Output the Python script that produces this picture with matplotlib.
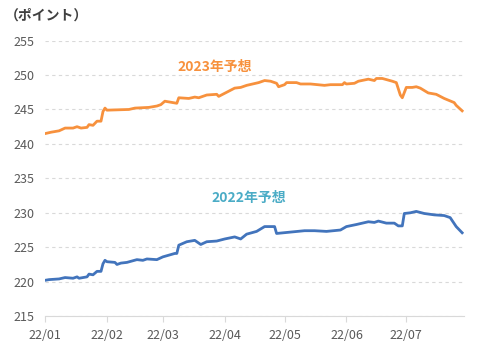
import pandas as pd
import matplotlib.pyplot as plt
import matplotlib.dates as mdates

plt.rcParams['font.family'] = ['Noto Sans CJK JP', 'DejaVu Sans']

# 2023年予想（オレンジ）
dates_2023 = ['01-01', '01-04', '01-08', '01-11', '01-15', '01-17', '01-19', '01-22',
              '01-23', '01-25', '01-27', '01-29', '01-30', '01-31', '02-01', '02-12',
              '02-15', '02-22', '02-26', '02-28', '03-02', '03-08', '03-09', '03-14',
              '03-17', '03-19', '03-23', '03-28', '03-29', '04-06', '04-09', '04-12',
              '04-18', '04-21', '04-24', '04-27', '04-28', '05-01', '05-02', '05-07',
              '05-09', '05-14', '05-21', '05-24', '05-30', '05-31', '06-01', '06-05',
              '06-07', '06-12', '06-15', '06-16', '06-19', '06-24', '06-26', '06-28',
              '06-29', '07-01', '07-04', '07-06', '07-08', '07-12', '07-16', '07-20',
              '07-25', '07-26', '07-29']
values_2023 = [241.5, 241.7, 241.9, 242.3, 242.3, 242.5, 242.3, 242.4,
               242.8, 242.7, 243.3, 243.3, 244.7, 245.2, 244.9, 245.0,
               245.2, 245.3, 245.5, 245.7, 246.2, 245.9, 246.7, 246.6,
               246.8, 246.7, 247.1, 247.2, 246.9, 248.1, 248.2, 248.5,
               248.9, 249.2, 249.1, 248.8, 248.3, 248.6, 248.9, 248.9,
               248.7, 248.7, 248.5, 248.6, 248.6, 248.9, 248.7, 248.8,
               249.1, 249.4, 249.2, 249.5, 249.5, 249.1, 248.9, 247.1,
               246.7, 248.2, 248.2, 248.3, 248.1, 247.4, 247.2, 246.6,
               246.0, 245.6, 244.8]

# 2022年予想（ブルー）
dates_2022 = ['01-01', '01-03', '01-08', '01-11', '01-15', '01-17', '01-18', '01-22',
              '01-23', '01-25', '01-27', '01-29', '01-30', '01-31', '02-01', '02-05',
              '02-06', '02-08', '02-11', '02-16', '02-19', '02-21', '02-26', '03-01',
              '03-07', '03-08', '03-09', '03-13', '03-17', '03-20', '03-23', '03-28',
              '04-01', '04-06', '04-09', '04-12', '04-17', '04-21', '04-26', '04-27',
              '05-04', '05-11', '05-16', '05-22', '05-29', '06-01', '06-06', '06-12',
              '06-15', '06-17', '06-21', '06-25', '06-27', '06-29', '06-30', '07-03',
              '07-06', '07-10', '07-15', '07-20', '07-23', '07-26', '07-29']
values_2022 = [220.2, 220.3, 220.4, 220.6, 220.5, 220.7, 220.5, 220.7,
               221.1, 221.0, 221.5, 221.5, 222.6, 223.1, 222.9, 222.8,
               222.5, 222.7, 222.8, 223.2, 223.1, 223.3, 223.2, 223.6,
               224.1, 224.1, 225.3, 225.8, 226.0, 225.4, 225.8, 225.9,
               226.2, 226.5, 226.2, 226.9, 227.3, 228.0, 228.0, 227.0,
               227.2, 227.4, 227.4, 227.3, 227.5, 228.0, 228.3, 228.7,
               228.6, 228.8, 228.5, 228.5, 228.1, 228.1, 229.9, 230.0,
               230.2, 229.9, 229.7, 229.6, 229.3, 228.0, 227.1]

y_ticks = [215, 220, 225, 230, 235, 240, 245, 250, 255]

x23 = pd.to_datetime(['2022-' + d for d in dates_2023])
x22 = pd.to_datetime(['2022-' + d for d in dates_2022])

fig = plt.figure(figsize=(4.8, 3.56), dpi=100)
ax = fig.add_axes([0.094, 0.112, 0.873, 0.774])

ax.plot(x23, values_2023, color='#f7913d', lw=2.0, solid_joinstyle='round')
ax.plot(x22, values_2022, color='#4274bc', lw=2.0, solid_joinstyle='round')

ax.set_ylim(215, 255)
ax.set_yticks(y_ticks)
ax.set_xlim(pd.Timestamp('2022-01-01'), pd.Timestamp('2022-07-30'))
ax.xaxis.set_major_locator(mdates.MonthLocator())
ax.xaxis.set_major_formatter(mdates.DateFormatter('%y/%m'))

ax.grid(axis='y', color='#d9d9d9', ls=(0, (3, 3)), lw=0.8)
ax.set_axisbelow(True)
for s in ['top', 'right', 'left']:
    ax.spines[s].set_visible(False)
ax.spines['bottom'].set_color('#d9d9d9')
ax.tick_params(axis='y', length=0, pad=8, labelsize=9, labelcolor='#595959')
ax.tick_params(axis='x', length=4, color='#d9d9d9', pad=5, labelsize=9, labelcolor='#595959')

ax.text(pd.Timestamp('2022-03-27'), 251.1, '2023年予想', color='#f7913d',
        fontsize=10, fontweight='bold', ha='center', va='center')
ax.text(pd.Timestamp('2022-04-13'), 232.1, '2022年予想', color='#4bacc6',
        fontsize=10, fontweight='bold', ha='center', va='center')

fig.text(0.01, 0.955, '（ポイント）', fontsize=10, color='#404040',
         fontweight='bold', ha='left', va='center')

fig.savefig('out.png', dpi=100)
